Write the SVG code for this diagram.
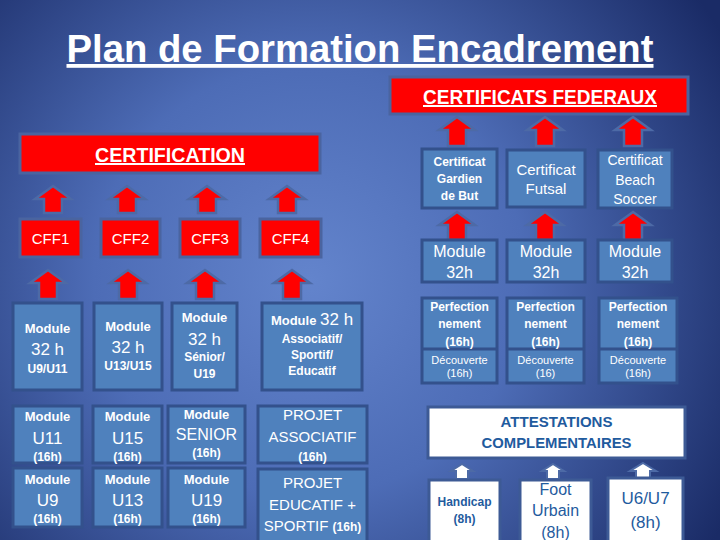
<svg xmlns="http://www.w3.org/2000/svg" width="720" height="540" viewBox="0 0 720 540">
<defs>
<radialGradient id="bg" cx="310" cy="280" r="480" gradientUnits="userSpaceOnUse">
<stop offset="0" stop-color="#6384cc"/>
<stop offset="0.45" stop-color="#4d6cb6"/>
<stop offset="1" stop-color="#1a2b66"/>
</radialGradient>
<style>
.box{fill:#4f81bd;stroke:#33518c;stroke-width:3}
.red{fill:#ff0000;stroke:#4a64a0;stroke-width:3}
.wbox{fill:#ffffff;stroke:#3d5a95;stroke-width:3}
.arr{fill:#ff0000;stroke:#4d6aa6;stroke-width:2.5;stroke-linejoin:miter}
.warr{fill:#ffffff;stroke:#4d6aa6;stroke-width:2}
.t{font-family:"Liberation Sans",Arial,sans-serif;fill:#ffffff;text-anchor:middle}
.d{fill:#1f5b9e}
.b{font-weight:bold}
.u{text-decoration:underline}
</style>
</defs>
<rect width="720" height="540" fill="url(#bg)"/>
<text class="t b" x="360" y="62" font-size="38" textLength="587" lengthAdjust="spacingAndGlyphs" text-decoration="underline">Plan de Formation Encadrement</text>

<g id="connectors">
<path class="arr" d="M53,186 L71,199 L62,199 L62,213 L44,213 L44,199 L35,199 Z"/>
<path class="arr" d="M127,186 L145,199 L136,199 L136,213 L118,213 L118,199 L109,199 Z"/>
<path class="arr" d="M207,186 L225,199 L216,199 L216,213 L198,213 L198,199 L189,199 Z"/>
<path class="arr" d="M287,186 L305,199 L296,199 L296,213 L278,213 L278,199 L269,199 Z"/>
<path class="arr" d="M48,270 L66,283 L57,283 L57,299 L39,299 L39,283 L30,283 Z"/>
<path class="arr" d="M128,270 L146,283 L137,283 L137,299 L119,299 L119,283 L110,283 Z"/>
<path class="arr" d="M205,270 L223,283 L214,283 L214,299 L196,299 L196,283 L187,283 Z"/>
<path class="arr" d="M292,270 L310,283 L301,283 L301,299 L283,299 L283,283 L274,283 Z"/>
<path class="arr" d="M457,117 L475,130 L466,130 L466,146 L448,146 L448,130 L439,130 Z"/>
<path class="arr" d="M545,117 L563,130 L554,130 L554,146 L536,146 L536,130 L527,130 Z"/>
<path class="arr" d="M633,117 L651,130 L642,130 L642,146 L624,146 L624,130 L615,130 Z"/>
<path class="arr" d="M457,212 L475,225 L466,225 L466,240 L448,240 L448,225 L439,225 Z"/>
<path class="arr" d="M545,212 L563,225 L554,225 L554,240 L536,240 L536,225 L527,225 Z"/>
<path class="arr" d="M633,212 L651,225 L642,225 L642,240 L624,240 L624,225 L615,225 Z"/>
<path class="warr" d="M462,464 L473,471 L468,471 L468,479 L456,479 L456,471 L451,471 Z"/>
<path class="warr" d="M553,464 L564,471 L559,471 L559,479 L547,479 L547,471 L542,471 Z"/>
<path class="warr" d="M643,463 L656,471 L650,471 L650,478 L636,478 L636,471 L630,471 Z"/>
</g>

<g id="certificats-federaux">
<rect class="red" x="390" y="77" width="298" height="37"/>
<text class="t b u" x="540" y="104" font-size="20" textLength="234" lengthAdjust="spacingAndGlyphs">CERTIFICATS FEDERAUX</text>
</g>
<g id="certification">
<rect class="red" x="20" y="134" width="300" height="39"/>
<text class="t b u" x="170" y="162" font-size="20" textLength="150" lengthAdjust="spacingAndGlyphs">CERTIFICATION</text>
</g>
<g id="cff1"><rect class="red" x="20" y="219" width="61" height="38"/><text class="t" x="50.5" y="244" font-size="15">CFF1</text></g>
<g id="cff2"><rect class="red" x="101" y="219" width="59" height="38"/><text class="t" x="130.5" y="244" font-size="15">CFF2</text></g>
<g id="cff3"><rect class="red" x="180" y="219" width="60" height="38"/><text class="t" x="210" y="244" font-size="15">CFF3</text></g>
<g id="cff4"><rect class="red" x="260" y="219" width="61" height="38"/><text class="t" x="290.5" y="244" font-size="15">CFF4</text></g>

<g id="mod-u9u11"><rect class="box" x="13" y="303" width="69" height="87"/>
<text class="t b" x="47.5" y="333" font-size="13">Module</text>
<text class="t" x="47.5" y="355" font-size="17">32 h</text>
<text class="t b" x="47.5" y="373" font-size="12">U9/U11</text></g>
<g id="mod-u13u15"><rect class="box" x="94" y="303" width="68" height="87"/>
<text class="t b" x="128" y="331" font-size="13">Module</text>
<text class="t" x="128" y="353" font-size="17">32 h</text>
<text class="t b" x="128" y="370" font-size="12">U13/U15</text></g>
<g id="mod-senior"><rect class="box" x="172" y="303" width="65" height="87"/>
<text class="t b" x="204.5" y="322" font-size="13">Module</text>
<text class="t" x="204.5" y="345" font-size="17">32 h</text>
<text class="t b" x="204.5" y="361" font-size="12">Sénior/</text>
<text class="t b" x="204.5" y="378" font-size="12">U19</text></g>
<g id="mod-asso"><rect class="box" x="262" y="303" width="100" height="87"/>
<text class="t" x="312" y="325"><tspan class="b" font-size="13">Module </tspan><tspan font-size="17">32 h</tspan></text>
<text class="t b" x="312" y="343" font-size="12">Associatif/</text>
<text class="t b" x="312" y="359" font-size="12">Sportif/</text>
<text class="t b" x="312" y="375" font-size="12">Educatif</text></g>

<g id="mod-u11"><rect class="box" x="13" y="406" width="69" height="57"/>
<text class="t b" x="47.5" y="421" font-size="13">Module</text>
<text class="t" x="47.5" y="444" font-size="17">U11</text>
<text class="t b" x="47.5" y="461" font-size="12">(16h)</text></g>
<g id="mod-u15"><rect class="box" x="93" y="406" width="69" height="57"/>
<text class="t b" x="127.5" y="421" font-size="13">Module</text>
<text class="t" x="127.5" y="444" font-size="17">U15</text>
<text class="t b" x="127.5" y="461" font-size="12">(16h)</text></g>
<g id="mod-senior16"><rect class="box" x="168" y="406" width="77" height="57"/>
<text class="t b" x="206.5" y="419" font-size="13">Module</text>
<text class="t" x="206.5" y="440" font-size="16">SENIOR</text>
<text class="t b" x="206.5" y="457" font-size="12">(16h)</text></g>
<g id="projet-asso"><rect class="box" x="258" y="406" width="109" height="57"/>
<text class="t" x="312.5" y="420" font-size="15">PROJET</text>
<text class="t" x="312.5" y="442" font-size="15">ASSOCIATIF</text>
<text class="t b" x="312.5" y="461" font-size="12">(16h)</text></g>

<g id="mod-u9"><rect class="box" x="13" y="468" width="69" height="59"/>
<text class="t b" x="47.5" y="484" font-size="13">Module</text>
<text class="t" x="47.5" y="506" font-size="17">U9</text>
<text class="t b" x="47.5" y="523" font-size="12">(16h)</text></g>
<g id="mod-u13"><rect class="box" x="93" y="468" width="69" height="59"/>
<text class="t b" x="127.5" y="484" font-size="13">Module</text>
<text class="t" x="127.5" y="506" font-size="17">U13</text>
<text class="t b" x="127.5" y="523" font-size="12">(16h)</text></g>
<g id="mod-u19"><rect class="box" x="168" y="468" width="77" height="59"/>
<text class="t b" x="206.5" y="484" font-size="13">Module</text>
<text class="t" x="206.5" y="506" font-size="17">U19</text>
<text class="t b" x="206.5" y="523" font-size="12">(16h)</text></g>
<g id="projet-edu"><rect class="box" x="258" y="469" width="109" height="80"/>
<text class="t" x="312.5" y="488" font-size="15">PROJET</text>
<text class="t" x="312.5" y="510" font-size="15">EDUCATIF +</text>
<text class="t" x="312.5" y="531"><tspan font-size="15">SPORTIF </tspan><tspan class="b" font-size="12">(16h)</tspan></text></g>

<g id="cert-gardien"><rect class="box" x="422" y="149" width="75" height="59"/>
<text class="t b" x="459.5" y="166" font-size="12">Certificat</text>
<text class="t b" x="459.5" y="183" font-size="12">Gardien</text>
<text class="t b" x="459.5" y="200" font-size="12">de But</text></g>
<g id="cert-futsal"><rect class="box" x="507" y="150" width="78" height="57"/>
<text class="t" x="546" y="175" font-size="15">Certificat</text>
<text class="t" x="546" y="194" font-size="15">Futsal</text></g>
<g id="cert-beach"><rect class="box" x="598" y="150" width="74" height="58"/>
<text class="t" x="635" y="165" font-size="14">Certificat</text>
<text class="t" x="635" y="185" font-size="14">Beach</text>
<text class="t" x="635" y="204" font-size="14">Soccer</text></g>

<g id="module32-1"><rect class="box" x="422" y="240" width="75" height="42"/>
<text class="t" x="459.5" y="257" font-size="16">Module</text>
<text class="t" x="459.5" y="278" font-size="16">32h</text></g>
<g id="module32-2"><rect class="box" x="507" y="240" width="78" height="42"/>
<text class="t" x="546" y="257" font-size="16">Module</text>
<text class="t" x="546" y="278" font-size="16">32h</text></g>
<g id="module32-3"><rect class="box" x="598" y="240" width="74" height="42"/>
<text class="t" x="635" y="257" font-size="16">Module</text>
<text class="t" x="635" y="278" font-size="16">32h</text></g>

<g id="perf-1"><rect class="box" x="422" y="298" width="75" height="85"/><line x1="422" y1="349" x2="497" y2="349" stroke="#33518c" stroke-width="3"/>
<text class="t b" x="459.5" y="311" font-size="12">Perfection</text>
<text class="t b" x="459.5" y="328" font-size="12">nement</text>
<text class="t b" x="459.5" y="346" font-size="12">(16h)</text>
<text class="t" x="459.5" y="364" font-size="11">Découverte</text>
<text class="t" x="459.5" y="377" font-size="11">(16h)</text></g>
<g id="perf-2"><rect class="box" x="507" y="298" width="77" height="85"/><line x1="507" y1="349" x2="584" y2="349" stroke="#33518c" stroke-width="3"/>
<text class="t b" x="545.5" y="311" font-size="12">Perfection</text>
<text class="t b" x="545.5" y="328" font-size="12">nement</text>
<text class="t b" x="545.5" y="346" font-size="12">(16h)</text>
<text class="t" x="545.5" y="364" font-size="11">Découverte</text>
<text class="t" x="545.5" y="377" font-size="11">(16)</text></g>
<g id="perf-3"><rect class="box" x="599" y="298" width="78" height="85"/><line x1="599" y1="349" x2="677" y2="349" stroke="#33518c" stroke-width="3"/>
<text class="t b" x="638" y="311" font-size="12">Perfection</text>
<text class="t b" x="638" y="328" font-size="12">nement</text>
<text class="t b" x="638" y="346" font-size="12">(16h)</text>
<text class="t" x="638" y="364" font-size="11">Découverte</text>
<text class="t" x="638" y="377" font-size="11">(16h)</text></g>

<g id="attestations"><rect class="wbox" x="428" y="407" width="257" height="51"/>
<text class="t b d" x="556.5" y="427" font-size="15" textLength="112" lengthAdjust="spacingAndGlyphs">ATTESTATIONS</text>
<text class="t b d" x="556.5" y="448" font-size="15" textLength="150" lengthAdjust="spacingAndGlyphs">COMPLEMENTAIRES</text></g>
<g id="handicap"><rect class="wbox" x="429" y="480" width="71" height="70"/>
<text class="t b d" x="464.5" y="506" font-size="12">Handicap</text>
<text class="t b d" x="464.5" y="523" font-size="12">(8h)</text></g>
<g id="foot-urbain"><rect class="wbox" x="520" y="480" width="71" height="70"/>
<text class="t d" x="555.5" y="495" font-size="16">Foot</text>
<text class="t d" x="555.5" y="516" font-size="16">Urbain</text>
<text class="t d" x="555.5" y="538" font-size="16">(8h)</text></g>
<g id="u6u7"><rect class="wbox" x="608" y="478" width="75" height="72"/>
<text class="t d" x="645.5" y="504" font-size="17">U6/U7</text>
<text class="t d" x="645.5" y="528" font-size="17">(8h)</text></g>
</svg>
